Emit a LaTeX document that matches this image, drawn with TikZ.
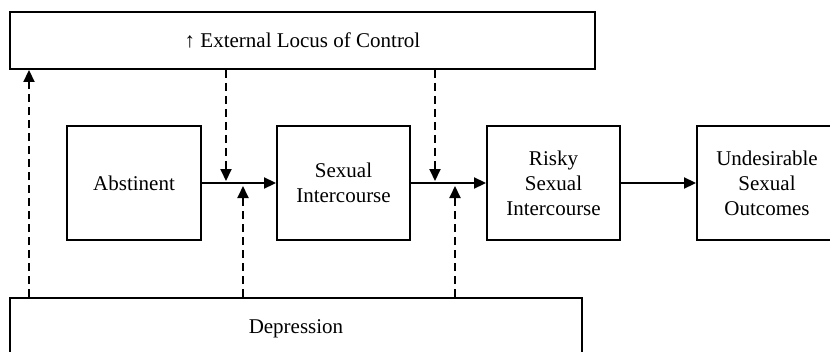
\documentclass[tikz,border=0pt]{standalone}
\usepackage{fontspec}
\setmainfont{Liberation Serif}
\usetikzlibrary{arrows.meta}
\begin{document}
\begin{tikzpicture}[x=1pt,y=-1pt,
  box/.style={draw,line width=1.9pt,inner sep=0pt,align=center,
    font=\fontsize{21}{25}\selectfont},
  flow/.style={line width=1.9pt,-{Triangle[length=12pt,width=11pt]}},
  mod/.style={line width=1.9pt,dash pattern=on 8pt off 5pt,-{Triangle[length=12pt,width=11pt]}}]
\useasboundingbox (0,0) rectangle (830,351);
\clip (0,0) rectangle (830,351);
\node[box,minimum width=585pt,minimum height=57pt] (loc) at (302.5,40.5) {↑ External Locus of Control};
\node[box,minimum width=572pt,minimum height=68pt] (dep) at (296,332) {\raisebox{10pt}{Depression}};
\node[box,minimum width=134pt,minimum height=114pt] (abs) at (134,183) {Abstinent};
\node[box,minimum width=133pt,minimum height=114pt] (sex) at (343.5,183) {Sexual\\Intercourse};
\node[box,minimum width=133pt,minimum height=114pt] (risk) at (553.5,183) {Risky\\Sexual\\Intercourse};
\node[box,minimum width=140pt,minimum height=114pt] (und) at (767,183) {Undesirable\\Sexual\\Outcomes};
\draw[flow] (abs.east) -- (sex.west);
\draw[flow] (sex.east) -- (risk.west);
\draw[flow] (risk.east) -- (und.west);
\coordinate (lx) at (29,0);
\coordinate (d1) at (226,181);
\coordinate (d2) at (435,181);
\coordinate (u1) at (243,186);
\coordinate (u2) at (455,186);
\draw[mod] (dep.north -| lx) -- (loc.south -| lx);
\draw[mod] (loc.south -| d1) -- (d1);
\draw[mod] (loc.south -| d2) -- (d2);
\draw[mod] (dep.north -| u1) -- (u1);
\draw[mod] (dep.north -| u2) -- (u2);
\end{tikzpicture}
\end{document}
